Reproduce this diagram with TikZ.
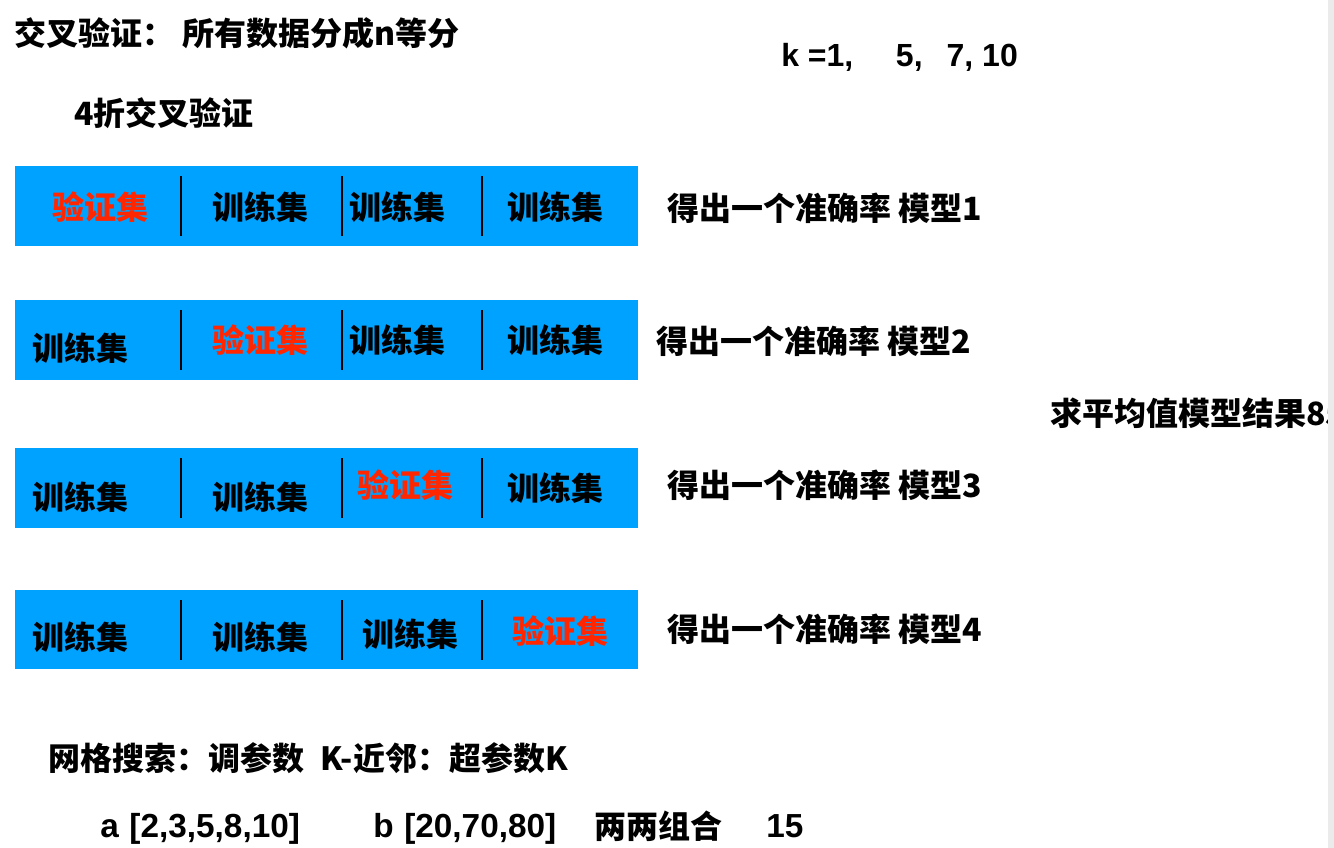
\documentclass[tikz,border=0pt]{standalone}
\usepackage{fontspec}
\newfontfamily\cjk{Noto Sans CJK SC}
\newfontfamily\lat{Liberation Sans}
\definecolor{boxblue}{HTML}{00A2FF}
\definecolor{valred}{HTML}{FF2600}
\definecolor{edgegray}{HTML}{EBEBEB}
\tikzset{
  cell/.style={font=\cjk\bfseries\fontsize{24}{28}\selectfont, inner sep=0pt},
  val/.style={cell, text=valred},
  lbl/.style={cell, anchor=west},
  latin/.style={font=\lat\bfseries\fontsize{24}{28}\selectfont, inner sep=0pt, anchor=base west},
  latinb/.style={font=\lat\bfseries\fontsize{25}{30}\selectfont, inner sep=0pt, anchor=base west},
  sepline/.style={line width=2pt},
  band/.style={fill=boxblue},
}
\begin{document}
\begin{tikzpicture}[x=0.75pt,y=-0.75pt]
\clip (0,0) rectangle (1334,848);
\fill[white] (0,0) rectangle (1334,848);

% titles
\node[lbl] (title) at (14,33) {交叉验证：\hspace{6pt}所有数据分成n等分};
\node[lbl] (fold) at (74,113) {4折交叉验证};
\node[latin] (klist) at (781,67) {k =1,\hspace{32pt}5,\hspace{18pt}7, 10};

% row 1
\fill[band] (15,166) rectangle (638,246);
\draw[sepline] (181,176) -- (181,236);
\draw[sepline] (342,176) -- (342,236);
\draw[sepline] (482,176) -- (482,236);
\node[val]  (r1a) at (100,207) {验证集};
\node[cell] (r1b) at (260,207) {训练集};
\node[cell] (r1c) at (397,207) {训练集};
\node[cell] (r1d) at (555,207) {训练集};
\node[lbl]  (r1l) at (667,208) {得出一个准确率 模型1};

% row 2
\fill[band] (15,300) rectangle (638,380);
\draw[sepline] (181,310) -- (181,370);
\draw[sepline] (342,310) -- (342,370);
\draw[sepline] (482,310) -- (482,370);
\node[cell] (r2a) at (80,348) {训练集};
\node[val]  (r2b) at (260,340) {验证集};
\node[cell] (r2c) at (397,340) {训练集};
\node[cell] (r2d) at (555,340) {训练集};
\node[lbl]  (r2l) at (656,341) {得出一个准确率 模型2};

% row 3
\fill[band] (15,448) rectangle (638,528);
\draw[sepline] (181,458) -- (181,518);
\draw[sepline] (342,458) -- (342,518);
\draw[sepline] (482,458) -- (482,518);
\node[cell] (r3a) at (80,497) {训练集};
\node[cell] (r3b) at (260,497) {训练集};
\node[val]  (r3c) at (405,485) {验证集};
\node[cell] (r3d) at (555,488) {训练集};
\node[lbl]  (r3l) at (667,485) {得出一个准确率 模型3};

% row 4
\fill[band] (15,590) rectangle (638,669);
\draw[sepline] (181,600) -- (181,660);
\draw[sepline] (342,600) -- (342,660);
\draw[sepline] (482,600) -- (482,660);
\node[cell] (r4a) at (80,637) {训练集};
\node[cell] (r4b) at (260,637) {训练集};
\node[cell] (r4c) at (410,634) {训练集};
\node[val]  (r4d) at (560,631) {验证集};
\node[lbl]  (r4l) at (667,629) {得出一个准确率 模型4};

% average
\node[lbl] (avg) at (1050,413) {求平均值模型结果85};

% bottom
\node[lbl] (grid) at (48,758) {网格搜索：调参数\hspace{12pt}K-近邻：超参数K};
\node[latinb] (pa) at (100,837) {a\hspace{8pt}[2,3,5,8,10]};
\node[latinb] (pb) at (373,837) {b\hspace{8pt}[20,70,80]};
\node[lbl] (comb) at (594,826) {两两组合};
\node[latinb] (n15) at (766,837) {15};

\fill[edgegray] (1328,0) rectangle (1334,848);
\end{tikzpicture}
\end{document}
